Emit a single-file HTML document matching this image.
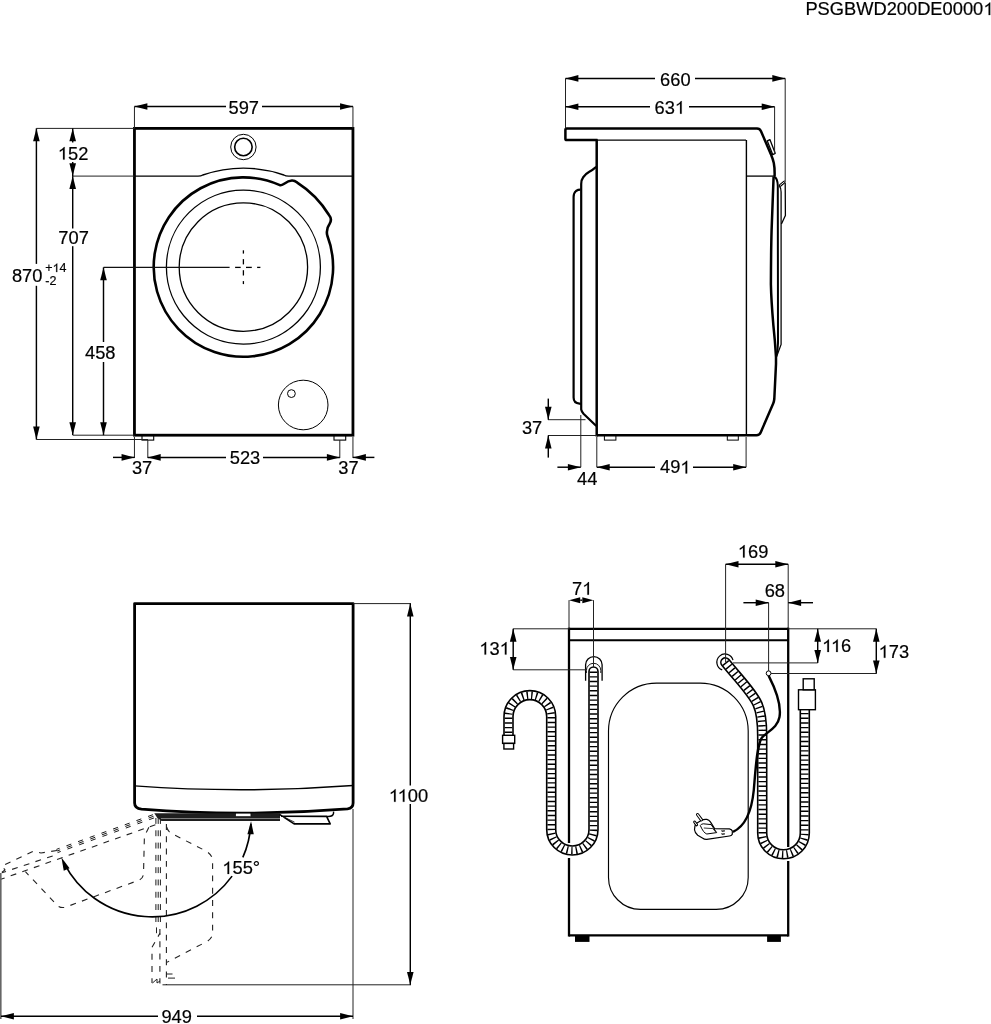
<!DOCTYPE html>
<html><head><meta charset="utf-8"><style>
html,body{margin:0;padding:0;background:#fff;}
svg{display:block;filter:grayscale(1);}
text{font-family:"Liberation Sans",sans-serif;fill:#000;stroke:#000;stroke-width:0.2px;}
</style></head><body>
<svg width="991" height="1024" viewBox="0 0 991 1024" fill="none" stroke-linecap="butt">
<text x="805.40" y="15.10" font-size="18.3">PSGBWD200DE0000</text>
<path transform="translate(983.40,15.10) scale(0.008936,-0.008936)" d="M764,0 L584,0 L584,1102 C519,1043 434,983 351,936 C306,911 262,893 223,876 L223,1043 C339,1096 441,1159 528,1234 C603,1300 657,1358 690,1409 L764,1409 Z" fill="#000" stroke="#000" stroke-width="22.4"/>
<rect x="134.45" y="128.4" width="218.5" height="306.79999999999995" stroke="#000" stroke-width="2.8"/>
<path d="M134.5,176.1 L198,176.1 Q201,176.1 202.8,175 A126,126 0 0 1 283.8,175 Q285.6,176.1 288.6,176.1 L353.2,176.1" stroke="#000" stroke-width="1.4"/>
<circle cx="243.4" cy="147" r="12.7" stroke="#000" stroke-width="1.0"/>
<circle cx="243.4" cy="147" r="8.75" stroke="#000" stroke-width="1.6"/>
<path d="M327.14,234.95 A89.7,89.7 0 1 1 279.88,185.15 C282.5,186.5 285.5,181 291.9,180.5 C294,180.4 295.5,181.2 297.24,182.59 A100.2,100.2 0 0 1 328.83,214.75 C331.5,218 331.5,221 329.5,224 C327,227.5 326.2,230 327.14,234.95" stroke="#000" stroke-width="2.6" stroke-linejoin="round"/>
<circle cx="243.4" cy="267.1" r="77" stroke="#000" stroke-width="1.3"/>
<circle cx="243.4" cy="267.1" r="64.2" stroke="#000" stroke-width="1.3"/>
<line x1="235.10" y1="267.40" x2="240.70" y2="267.40" stroke="#000" stroke-width="1.3" />
<line x1="246.00" y1="267.40" x2="251.80" y2="267.40" stroke="#000" stroke-width="1.3" />
<line x1="257.10" y1="267.40" x2="260.40" y2="267.40" stroke="#000" stroke-width="1.3" />
<line x1="243.40" y1="250.30" x2="243.40" y2="253.60" stroke="#000" stroke-width="1.3" />
<line x1="243.40" y1="259.10" x2="243.40" y2="264.40" stroke="#000" stroke-width="1.3" />
<line x1="243.40" y1="270.20" x2="243.40" y2="275.50" stroke="#000" stroke-width="1.3" />
<line x1="243.40" y1="281.10" x2="243.40" y2="284.10" stroke="#000" stroke-width="1.3" />
<circle cx="303.2" cy="405" r="24.8" stroke="#000" stroke-width="1.0"/>
<circle cx="291.4" cy="393.6" r="3.9" stroke="#000" stroke-width="1.0"/>
<rect x="142" y="435.3" width="11.7" height="4.8" stroke="#000" stroke-width="1.1"/>
<rect x="334" y="435.3" width="11.7" height="4.8" stroke="#000" stroke-width="1.1"/>
<line x1="134.45" y1="106.50" x2="134.45" y2="128.40" stroke="#222" stroke-width="1.0" />
<line x1="352.95" y1="106.50" x2="352.95" y2="128.40" stroke="#222" stroke-width="1.0" />
<line x1="134.45" y1="106.50" x2="226.00" y2="106.50" stroke="#000" stroke-width="1.45" />
<line x1="262.00" y1="106.50" x2="352.95" y2="106.50" stroke="#000" stroke-width="1.45" />
<path d="M134.45,106.50 L147.35,103.20 L147.35,109.80 Z" fill="#000"/>
<path d="M352.95,106.50 L340.05,109.80 L340.05,103.20 Z" fill="#000"/>
<text x="228.47" y="114.00" font-size="18.3">597</text>
<line x1="36.40" y1="128.40" x2="134.45" y2="128.40" stroke="#222" stroke-width="1.0" />
<line x1="36.40" y1="439.50" x2="148.00" y2="439.50" stroke="#222" stroke-width="1.0" />
<line x1="36.40" y1="128.40" x2="36.40" y2="263.90" stroke="#000" stroke-width="1.45" />
<line x1="36.40" y1="285.80" x2="36.40" y2="439.50" stroke="#000" stroke-width="1.45" />
<path d="M36.40,128.40 L39.70,141.30 L33.10,141.30 Z" fill="#000"/>
<path d="M36.40,439.50 L33.10,426.60 L39.70,426.60 Z" fill="#000"/>
<text x="11.90" y="281.60" font-size="18.3">870</text>
<text x="45.29" y="272.10" font-size="12.5">+</text>
<path transform="translate(52.59,272.10) scale(0.006104,-0.006104)" d="M764,0 L584,0 L584,1102 C519,1043 434,983 351,936 C306,911 262,893 223,876 L223,1043 C339,1096 441,1159 528,1234 C603,1300 657,1358 690,1409 L764,1409 Z" fill="#000" stroke="#000" stroke-width="32.8"/>
<text x="59.54" y="272.10" font-size="12.5">4</text>
<text x="45.34" y="284.90" font-size="12.5">-2</text>
<line x1="73.00" y1="176.10" x2="134.45" y2="176.10" stroke="#222" stroke-width="1.0" />
<line x1="73.00" y1="435.20" x2="134.45" y2="435.20" stroke="#222" stroke-width="1.0" />
<line x1="72.70" y1="128.40" x2="72.70" y2="142.50" stroke="#000" stroke-width="1.45" />
<line x1="72.70" y1="162.00" x2="72.70" y2="176.10" stroke="#000" stroke-width="1.45" />
<path d="M72.70,128.40 L76.00,141.30 L69.40,141.30 Z" fill="#000"/>
<path d="M72.70,176.10 L69.40,163.20 L76.00,163.20 Z" fill="#000"/>
<path transform="translate(57.81,159.60) scale(0.008936,-0.008936)" d="M764,0 L584,0 L584,1102 C519,1043 434,983 351,936 C306,911 262,893 223,876 L223,1043 C339,1096 441,1159 528,1234 C603,1300 657,1358 690,1409 L764,1409 Z" fill="#000" stroke="#000" stroke-width="22.4"/>
<text x="67.98" y="159.60" font-size="18.3">52</text>
<line x1="72.70" y1="176.10" x2="72.70" y2="228.50" stroke="#000" stroke-width="1.45" />
<line x1="72.70" y1="246.20" x2="72.70" y2="435.20" stroke="#000" stroke-width="1.45" />
<path d="M72.70,176.10 L76.00,189.00 L69.40,189.00 Z" fill="#000"/>
<path d="M72.70,435.20 L69.40,422.30 L76.00,422.30 Z" fill="#000"/>
<text x="58.36" y="243.70" font-size="18.3">707</text>
<line x1="103.50" y1="267.40" x2="229.60" y2="267.40" stroke="#111" stroke-width="1.2" />
<line x1="103.50" y1="267.40" x2="103.50" y2="342.00" stroke="#000" stroke-width="1.45" />
<line x1="103.50" y1="362.00" x2="103.50" y2="435.20" stroke="#000" stroke-width="1.45" />
<path d="M103.50,267.40 L106.80,280.30 L100.20,280.30 Z" fill="#000"/>
<path d="M103.50,435.20 L100.20,422.30 L106.80,422.30 Z" fill="#000"/>
<text x="84.98" y="358.50" font-size="18.3">458</text>
<line x1="134.45" y1="437.00" x2="134.45" y2="458.00" stroke="#222" stroke-width="1.0" />
<line x1="147.80" y1="440.00" x2="147.80" y2="458.00" stroke="#222" stroke-width="1.0" />
<line x1="339.80" y1="440.00" x2="339.80" y2="458.00" stroke="#222" stroke-width="1.0" />
<line x1="352.95" y1="437.00" x2="352.95" y2="458.00" stroke="#222" stroke-width="1.0" />
<line x1="113.00" y1="457.40" x2="134.45" y2="457.40" stroke="#000" stroke-width="1.45" />
<path d="M134.45,457.40 L121.55,460.70 L121.55,454.10 Z" fill="#000"/>
<line x1="147.80" y1="457.40" x2="226.00" y2="457.40" stroke="#000" stroke-width="1.45" />
<line x1="263.00" y1="457.40" x2="339.80" y2="457.40" stroke="#000" stroke-width="1.45" />
<path d="M147.80,457.40 L160.70,454.10 L160.70,460.70 Z" fill="#000"/>
<path d="M339.80,457.40 L326.90,460.70 L326.90,454.10 Z" fill="#000"/>
<line x1="374.40" y1="457.40" x2="352.95" y2="457.40" stroke="#000" stroke-width="1.45" />
<path d="M352.95,457.40 L365.85,454.10 L365.85,460.70 Z" fill="#000"/>
<text x="131.90" y="474.40" font-size="18.3">37</text>
<text x="229.77" y="464.40" font-size="18.3">523</text>
<text x="338.30" y="474.40" font-size="18.3">37</text>
<path d="M597.5,140.1 L566.8,140.1 Q565.4,140.1 565.4,138.7 L565.4,129.9 Q565.4,128.5 566.8,128.5 L757,128.5 Q759.8,128.5 761,131.2 L771.2,155 Q772.8,158.8 773.8,163 Q774.8,168 774.6,176" stroke="#000" stroke-width="2.5" stroke-linejoin="round"/>
<line x1="597.00" y1="140.10" x2="746.00" y2="140.10" stroke="#000" stroke-width="1.3" />
<line x1="746.40" y1="140.10" x2="746.40" y2="435.20" stroke="#000" stroke-width="1.4" />
<line x1="746.40" y1="176.10" x2="774.00" y2="176.10" stroke="#000" stroke-width="1.3" />
<line x1="596.70" y1="139.50" x2="596.70" y2="436.40" stroke="#000" stroke-width="2.5" />
<path d="M596.8,435.2 L756.5,435.2 Q759.5,435.2 760.8,432.2 L773.2,403.5 Q774,401.6 774.3,399 L776,364 L776,357 Q775,340 773.4,325.6 Q771.2,300 770.9,284.6 Q771,250 771.6,230 L773.6,176.5" stroke="#000" stroke-width="2.5" stroke-linejoin="round"/>
<path d="M774,176.5 Q777.6,178 777.8,186 L778,343 Q778,350 776,357" stroke="#000" stroke-width="2.0"/>
<path d="M779.4,186 Q781.1,188 781.1,192 L781.1,344.5 L776.3,357.5" stroke="#000" stroke-width="1.25"/>
<path d="M785.2,183 L785.4,215.5 L781.4,224" stroke="#000" stroke-width="1.3" stroke-linejoin="round"/>
<path d="M780.3,185.3 L784.3,182" stroke="#000" stroke-width="2.9" stroke-linecap="round"/>
<path d="M780.3,185.3 L784.3,182" stroke="#fff" stroke-width="0.9" stroke-linecap="round"/>
<path d="M767.3,140.9 L769.9,139.6 L775.2,153.3 L772.7,154.6 Z" fill="#fff" stroke="#000" stroke-width="1.3" stroke-linejoin="round"/>
<path d="M596.2,166.8 Q592.5,170 589.3,171.8 Q586,173.6 583.2,177.2 Q581.2,179.8 581.2,184 L581.2,409.5 Q581.6,411.5 583.5,413.7 L596.3,426" stroke="#000" stroke-width="2.2" stroke-linejoin="round"/>
<path d="M580.5,189.7 Q578,189.7 576,191 Q573.6,193 573.6,197 L573.6,397.5 Q573.6,403.2 579.5,403.6 L581.2,404" stroke="#000" stroke-width="2.2" stroke-linejoin="round"/>
<rect x="604.4" y="435.5" width="11.5" height="4.6" stroke="#000" stroke-width="1.0"/>
<rect x="727.3" y="435.5" width="11" height="4.6" stroke="#000" stroke-width="1.0"/>
<line x1="565.50" y1="78.40" x2="565.50" y2="128.50" stroke="#222" stroke-width="1.0" />
<line x1="785.20" y1="78.40" x2="785.20" y2="181.00" stroke="#222" stroke-width="1.0" />
<line x1="774.60" y1="106.70" x2="774.60" y2="152.00" stroke="#222" stroke-width="1.0" />
<line x1="565.50" y1="78.40" x2="655.00" y2="78.40" stroke="#000" stroke-width="1.45" />
<line x1="695.00" y1="78.40" x2="785.20" y2="78.40" stroke="#000" stroke-width="1.45" />
<path d="M565.50,78.40 L578.40,75.10 L578.40,81.70 Z" fill="#000"/>
<path d="M785.20,78.40 L772.30,81.70 L772.30,75.10 Z" fill="#000"/>
<text x="660.07" y="85.70" font-size="18.3">660</text>
<line x1="565.50" y1="106.70" x2="650.00" y2="106.70" stroke="#000" stroke-width="1.45" />
<line x1="689.00" y1="106.70" x2="774.60" y2="106.70" stroke="#000" stroke-width="1.45" />
<path d="M565.50,106.70 L578.40,103.40 L578.40,110.00 Z" fill="#000"/>
<path d="M774.60,106.70 L761.70,110.00 L761.70,103.40 Z" fill="#000"/>
<text x="654.47" y="113.70" font-size="18.3">63</text>
<path transform="translate(674.83,113.70) scale(0.008936,-0.008936)" d="M764,0 L584,0 L584,1102 C519,1043 434,983 351,936 C306,911 262,893 223,876 L223,1043 C339,1096 441,1159 528,1234 C603,1300 657,1358 690,1409 L764,1409 Z" fill="#000" stroke="#000" stroke-width="22.4"/>
<line x1="548.00" y1="419.70" x2="585.50" y2="419.70" stroke="#222" stroke-width="1.0" />
<line x1="548.00" y1="435.50" x2="597.00" y2="435.50" stroke="#222" stroke-width="1.0" />
<line x1="548.30" y1="398.60" x2="548.30" y2="419.70" stroke="#000" stroke-width="1.45" />
<path d="M548.30,419.70 L545.00,406.80 L551.60,406.80 Z" fill="#000"/>
<line x1="548.30" y1="457.60" x2="548.30" y2="435.50" stroke="#000" stroke-width="1.45" />
<path d="M548.30,435.50 L551.60,448.40 L545.00,448.40 Z" fill="#000"/>
<text x="521.90" y="433.90" font-size="18.3">37</text>
<line x1="580.80" y1="415.00" x2="580.80" y2="467.20" stroke="#222" stroke-width="1.0" />
<line x1="596.80" y1="437.00" x2="596.80" y2="467.20" stroke="#222" stroke-width="1.0" />
<line x1="746.10" y1="437.00" x2="746.10" y2="467.20" stroke="#222" stroke-width="1.0" />
<line x1="557.40" y1="467.20" x2="580.80" y2="467.20" stroke="#000" stroke-width="1.45" />
<path d="M580.80,467.20 L567.90,470.50 L567.90,463.90 Z" fill="#000"/>
<line x1="596.80" y1="467.20" x2="655.00" y2="467.20" stroke="#000" stroke-width="1.45" />
<line x1="693.00" y1="467.20" x2="746.10" y2="467.20" stroke="#000" stroke-width="1.45" />
<path d="M596.80,467.20 L609.70,463.90 L609.70,470.50 Z" fill="#000"/>
<path d="M746.10,467.20 L733.20,470.50 L733.20,463.90 Z" fill="#000"/>
<text x="576.98" y="485.40" font-size="18.3">44</text>
<text x="659.98" y="473.40" font-size="18.3">49</text>
<path transform="translate(680.34,473.40) scale(0.008936,-0.008936)" d="M764,0 L584,0 L584,1102 C519,1043 434,983 351,936 C306,911 262,893 223,876 L223,1043 C339,1096 441,1159 528,1234 C603,1300 657,1358 690,1409 L764,1409 Z" fill="#000" stroke="#000" stroke-width="22.4"/>
<path d="M134.6,803 L134.6,603.6 L353.1,603.6 L353.1,803 Q353.1,808.2 347.5,808.8 Q243.6,817.2 141.5,809.2 Q134.6,808.4 134.6,803 Z" stroke="#000" stroke-width="2.8" stroke-linejoin="round"/>
<path d="M134.6,785.9 Q243.6,793.8 353.1,785.5" stroke="#000" stroke-width="1.4"/>
<path d="M154.3,813.2 L280,813.2 L280,820.9 L161.5,820.9 L157,817.5 Z" fill="#1e1e1e"/>
<rect x="160" y="818.1" width="120" height="0.9" fill="#8a8a8a"/>
<rect x="235.6" y="813.2" width="15.3" height="3.4" fill="#fff" stroke="#000" stroke-width="0.6"/>
<path d="M279.5,814.3 L294.1,823.9 L330.2,823.9 L326.6,816.4 L281,816.2" fill="#fff" stroke="#000" stroke-width="1.6" stroke-linejoin="round"/>
<path d="M326.6,816.4 Q332.8,817 333.5,813.5 L333.6,811.6" stroke="#000" stroke-width="1.4"/>
<path d="M281,815.6 L294.6,822.2" stroke="#000" stroke-width="0.8"/>
<path d="M155.9,818 L155.9,922" stroke="#1a1a1a" stroke-width="1.0" stroke-dasharray="5.9 6.4"/>
<path d="M158.2,818 L158.2,922" stroke="#1a1a1a" stroke-width="1.0" stroke-dasharray="5.9 6.4"/>
<path d="M160.4,818 L160.4,922" stroke="#1a1a1a" stroke-width="1.0" stroke-dasharray="5.9 6.4"/>
<path d="M166.4,824 L166.4,985" stroke="#222" stroke-width="1.1" stroke-dasharray="5.9 6.4" />
<path d="M166.6,827 Q168,832 172.7,834.1 L205,850.5 Q212.6,854.5 212.6,861 L212.6,933 Q212.6,939 205,942.5 L167.1,962.2" stroke="#222" stroke-width="1.1" stroke-dasharray="5.9 6.4" />
<path d="M159.9,929 L159.9,983.5" stroke="#222" stroke-width="1.1" stroke-dasharray="5.9 6.4" />
<line x1="156.50" y1="927.40" x2="156.50" y2="933.20" stroke="#222" stroke-width="1.0" />
<path d="M159.9,933.2 L152,947.4 L152,983" stroke="#222" stroke-width="1.1" stroke-dasharray="5.9 6.4" stroke-dashoffset="2"/>
<path d="M152.5,983 L157,979 L157,983 L160,981" stroke="#222" stroke-width="1.0"/>
<line x1="166.40" y1="974.00" x2="172.50" y2="974.00" stroke="#222" stroke-width="1.0" />
<line x1="168.00" y1="978.10" x2="175.00" y2="978.10" stroke="#222" stroke-width="1.0" />
<line x1="152.92" y1="814.70" x2="56.42" y2="849.40" stroke="#1a1a1a" stroke-width="1.0" stroke-dasharray="5.2 7.2"/>
<line x1="153.50" y1="816.30" x2="57.00" y2="851.00" stroke="#1a1a1a" stroke-width="1.0" stroke-dasharray="5.2 7.2"/>
<line x1="154.08" y1="817.90" x2="57.58" y2="852.60" stroke="#1a1a1a" stroke-width="1.0" stroke-dasharray="5.2 7.2"/>
<path d="M155.4,824.7 L0,879.6" stroke="#222" stroke-width="1.1" stroke-dasharray="5.9 6.4" />
<path d="M57,850.5 L41,853 L37,852 L33,851.5 L2,866 L5,870 L1,873" stroke="#222" stroke-width="1.1" stroke-dasharray="5.9 6.4" />
<path d="M52.7,855.9 L1.8,872.8" stroke="#222" stroke-width="1.1" stroke-dasharray="5.9 6.4" />
<path d="M148.9,827.2 L144.4,836.3 L143.5,874 Q143,879 138,880.5 L66,907 Q60,909 56,904 L25.4,871.7" stroke="#222" stroke-width="1.1" stroke-dasharray="5.9 6.4" />
<path d="M250.92,823.84 A99.0,99.0 0 0 1 242.82,857.43" stroke="#000" stroke-width="1.65"/>
<path d="M232.09,876.13 A99.0,99.0 0 0 1 64.29,863.51" stroke="#000" stroke-width="1.65"/>
<path d="M251.04,821.26 L253.78,834.36 L247.39,834.14 Z" fill="#000"/>
<path d="M61.45,857.59 L69.60,868.21 L63.74,870.78 Z" fill="#000"/>
<path transform="translate(222.31,874.00) scale(0.008936,-0.008936)" d="M764,0 L584,0 L584,1102 C519,1043 434,983 351,936 C306,911 262,893 223,876 L223,1043 C339,1096 441,1159 528,1234 C603,1300 657,1358 690,1409 L764,1409 Z" fill="#000" stroke="#000" stroke-width="22.4"/>
<text x="232.48" y="874.00" font-size="18.3">55°</text>
<line x1="353.10" y1="603.60" x2="411.00" y2="603.60" stroke="#222" stroke-width="1.0" />
<line x1="162.50" y1="984.80" x2="411.00" y2="984.80" stroke="#222" stroke-width="1.0" />
<line x1="410.30" y1="603.60" x2="410.30" y2="785.50" stroke="#000" stroke-width="1.45" />
<line x1="410.30" y1="804.00" x2="410.30" y2="984.80" stroke="#000" stroke-width="1.45" />
<path d="M410.30,603.60 L413.60,616.50 L407.00,616.50 Z" fill="#000"/>
<path d="M410.30,984.80 L407.00,971.90 L413.60,971.90 Z" fill="#000"/>
<path transform="translate(388.81,801.80) scale(0.008936,-0.008936)" d="M764,0 L584,0 L584,1102 C519,1043 434,983 351,936 C306,911 262,893 223,876 L223,1043 C339,1096 441,1159 528,1234 C603,1300 657,1358 690,1409 L764,1409 Z" fill="#000" stroke="#000" stroke-width="22.4"/>
<path transform="translate(397.63,801.80) scale(0.008936,-0.008936)" d="M764,0 L584,0 L584,1102 C519,1043 434,983 351,936 C306,911 262,893 223,876 L223,1043 C339,1096 441,1159 528,1234 C603,1300 657,1358 690,1409 L764,1409 Z" fill="#000" stroke="#000" stroke-width="22.4"/>
<text x="407.80" y="801.80" font-size="18.3">00</text>
<line x1="353.00" y1="809.00" x2="353.00" y2="1019.00" stroke="#222" stroke-width="1.0" />
<line x1="0.8" y1="873" x2="0.8" y2="1019" stroke="#666" stroke-width="1.6"/>
<line x1="1.00" y1="1016.30" x2="158.00" y2="1016.30" stroke="#000" stroke-width="1.45" />
<line x1="197.00" y1="1016.30" x2="353.00" y2="1016.30" stroke="#000" stroke-width="1.45" />
<path d="M1.00,1016.30 L13.90,1013.00 L13.90,1019.60 Z" fill="#000"/>
<path d="M353.00,1016.30 L340.10,1019.60 L340.10,1013.00 Z" fill="#000"/>
<text x="161.44" y="1022.90" font-size="18.3">949</text>
<line x1="569.00" y1="628.80" x2="788.20" y2="628.80" stroke="#000" stroke-width="2.3" />
<line x1="569.00" y1="935.40" x2="788.20" y2="935.40" stroke="#000" stroke-width="2.3" />
<line x1="569.00" y1="627.65" x2="569.00" y2="843.00" stroke="#000" stroke-width="2.3" />
<line x1="569.00" y1="858.00" x2="569.00" y2="936.55" stroke="#000" stroke-width="2.3" />
<line x1="788.20" y1="627.65" x2="788.20" y2="847.00" stroke="#000" stroke-width="2.3" />
<line x1="788.20" y1="861.00" x2="788.20" y2="936.55" stroke="#000" stroke-width="2.3" />
<line x1="569.00" y1="640.20" x2="788.20" y2="640.20" stroke="#000" stroke-width="2.0" />
<rect x="575" y="935.4" width="14.5" height="6.5" fill="#000"/>
<rect x="767.1" y="935.4" width="13.8" height="6.5" fill="#000"/>
<path d="M656.5,683.1 L700.2,683.1 A48,48 0 0 1 748.2,731.1 L748.2,877.4 A32,32 0 0 1 716.2,909.4 L640.5,909.4 A32,32 0 0 1 608.5,877.4 L608.5,731.1 A48,48 0 0 1 656.5,683.1 Z" stroke="#000" stroke-width="1.15"/>
<path d="M593.5,671.5 L593.5,829.4 A21.15,21.15 0 0 1 551.2,829.4 L551.2,716.5 A21.35,21.35 0 0 0 508.5,716.5 L508.5,735" stroke="#000" stroke-width="10.6" stroke-linecap="round"/>
<path d="M593.5,671.5 L593.5,829.4 A21.15,21.15 0 0 1 551.2,829.4 L551.2,716.5 A21.35,21.35 0 0 0 508.5,716.5 L508.5,735" stroke="#fff" stroke-width="7.4" stroke-linecap="round"/>
<path d="M593.5,671.5 L593.5,829.4 A21.15,21.15 0 0 1 551.2,829.4 L551.2,716.5 A21.35,21.35 0 0 0 508.5,716.5 L508.5,735" stroke="#000" stroke-width="7.6" stroke-dasharray="1.4 3.25"/>
<rect x="502.6" y="735.3" width="12.1" height="8.1" fill="#fff" stroke="#000" stroke-width="1.4"/>
<rect x="503.9" y="743.4" width="9.7" height="5.6" fill="#fff" stroke="#000" stroke-width="1.4"/>
<path d="M585.6,680.8 L585.6,664.8 A8.25,8.25 0 0 1 602.1,664.8 L602.1,680.8" stroke="#000" stroke-width="1.3"/>
<path d="M586.4,673 L586.4,670.5 A7.2,7.2 0 0 1 600.8,670.5 L600.8,673" stroke="#000" stroke-width="0.9"/>
<path d="M725.4,662.4 C738,678 752,692 757.5,704 C761.5,713 762.2,722 762.2,736 L762.2,833 A21.3,21.3 0 0 0 804.8,833 L804.8,709" stroke="#000" stroke-width="10.6" stroke-linecap="round"/>
<path d="M725.4,662.4 C738,678 752,692 757.5,704 C761.5,713 762.2,722 762.2,736 L762.2,833 A21.3,21.3 0 0 0 804.8,833 L804.8,709" stroke="#fff" stroke-width="7.4" stroke-linecap="round"/>
<path d="M725.4,662.4 C738,678 752,692 757.5,704 C761.5,713 762.2,722 762.2,736 L762.2,833 A21.3,21.3 0 0 0 804.8,833 L804.8,709" stroke="#000" stroke-width="7.6" stroke-dasharray="1.4 3.25"/>
<rect x="798.5" y="689.8" width="16.9" height="19.9" fill="#fff" stroke="#000" stroke-width="1.4"/>
<rect x="803.2" y="678.8" width="11" height="11" fill="#fff" stroke="#000" stroke-width="1.4"/>
<path d="M722.2,669.9 A8.2,8.2 0 1 1 733,660.1" stroke="#000" stroke-width="1.2"/>
<path d="M768.6,675.6 C776,690 781.5,705 779.5,717 C777.5,728 768,731 762,737.5 C757,744 755.5,770 753.8,790 C752,808 746,826 733,831.8" stroke="#000" stroke-width="2.4"/>
<circle cx="768.6" cy="673.3" r="2.4" stroke="#000" stroke-width="1.0"/>
<path d="M701.2,820.5 Q704,819 706.8,819.4 Q709,820 710.4,821.9 L714.6,828.6 L729.4,828.9 Q731.9,829.4 732.3,831 L732.3,834.2 Q731.5,835.8 729.4,836 L706.8,839.4 Q704.5,839.6 702.8,838.3 L697.7,835.3 Q694.8,832.5 694.5,829.7 Q694.5,826 695.8,823.8 Z" fill="#fff" stroke="#000" stroke-width="1.2" stroke-linejoin="round"/>
<path d="M700.3,825.5 Q701,824 703.3,823.8 L711.1,824.6 L716.7,832.6 L706.8,834 Q703.5,833 700.3,825.5 Z" stroke="#000" stroke-width="1.0" stroke-linejoin="round"/>
<path d="M703.8,828 L712.8,828.6 L716,832.3" stroke="#000" stroke-width="0.8"/>
<path d="M697.6,814.6 L701.4,819.8" stroke="#000" stroke-width="3.2" stroke-linecap="round"/>
<path d="M697.6,814.6 L701.4,819.8" stroke="#fff" stroke-width="1.2" stroke-linecap="round"/>
<path d="M694.6,822 L696.6,824.8" stroke="#000" stroke-width="3.0" stroke-linecap="round"/>
<path d="M694.6,822 L696.6,824.8" stroke="#fff" stroke-width="1.0" stroke-linecap="round"/>
<path d="M721.5,830 L722.3,832 L723.1,830 L723.9,832 L724.7,830 M721.5,833 L722.3,835 L723.1,833 L723.9,835 L724.7,833" stroke="#000" stroke-width="0.6"/>
<line x1="569.00" y1="600.20" x2="569.00" y2="628.80" stroke="#222" stroke-width="1.0" />
<line x1="593.50" y1="600.20" x2="593.50" y2="667.00" stroke="#222" stroke-width="1.0" />
<line x1="580.20" y1="600.20" x2="582.20" y2="600.20" stroke="#000" stroke-width="1.45" />
<path d="M569.00,600.20 L580.20,597.20 L580.20,603.20 Z" fill="#000"/>
<path d="M593.50,600.20 L582.30,603.20 L582.30,597.20 Z" fill="#000"/>
<text x="571.96" y="594.70" font-size="18.3">7</text>
<path transform="translate(582.14,594.70) scale(0.008936,-0.008936)" d="M764,0 L584,0 L584,1102 C519,1043 434,983 351,936 C306,911 262,893 223,876 L223,1043 C339,1096 441,1159 528,1234 C603,1300 657,1358 690,1409 L764,1409 Z" fill="#000" stroke="#000" stroke-width="22.4"/>
<line x1="513.20" y1="628.80" x2="569.00" y2="628.80" stroke="#222" stroke-width="1.0" />
<line x1="513.20" y1="669.80" x2="586.00" y2="669.80" stroke="#222" stroke-width="1.0" />
<line x1="513.20" y1="628.80" x2="513.20" y2="669.80" stroke="#000" stroke-width="1.45" />
<path d="M513.20,628.80 L516.50,641.70 L509.90,641.70 Z" fill="#000"/>
<path d="M513.20,669.80 L509.90,656.90 L516.50,656.90 Z" fill="#000"/>
<path transform="translate(479.31,654.60) scale(0.008936,-0.008936)" d="M764,0 L584,0 L584,1102 C519,1043 434,983 351,936 C306,911 262,893 223,876 L223,1043 C339,1096 441,1159 528,1234 C603,1300 657,1358 690,1409 L764,1409 Z" fill="#000" stroke="#000" stroke-width="22.4"/>
<text x="489.48" y="654.60" font-size="18.3">3</text>
<path transform="translate(499.66,654.60) scale(0.008936,-0.008936)" d="M764,0 L584,0 L584,1102 C519,1043 434,983 351,936 C306,911 262,893 223,876 L223,1043 C339,1096 441,1159 528,1234 C603,1300 657,1358 690,1409 L764,1409 Z" fill="#000" stroke="#000" stroke-width="22.4"/>
<line x1="725.60" y1="564.30" x2="725.60" y2="662.00" stroke="#222" stroke-width="1.0" />
<line x1="788.20" y1="564.30" x2="788.20" y2="628.80" stroke="#222" stroke-width="1.0" />
<line x1="725.60" y1="564.30" x2="788.20" y2="564.30" stroke="#000" stroke-width="1.45" />
<path d="M725.60,564.30 L738.50,561.00 L738.50,567.60 Z" fill="#000"/>
<path d="M788.20,564.30 L775.30,567.60 L775.30,561.00 Z" fill="#000"/>
<path transform="translate(737.81,557.60) scale(0.008936,-0.008936)" d="M764,0 L584,0 L584,1102 C519,1043 434,983 351,936 C306,911 262,893 223,876 L223,1043 C339,1096 441,1159 528,1234 C603,1300 657,1358 690,1409 L764,1409 Z" fill="#000" stroke="#000" stroke-width="22.4"/>
<text x="747.98" y="557.60" font-size="18.3">69</text>
<line x1="768.60" y1="602.70" x2="768.60" y2="671.00" stroke="#222" stroke-width="1.0" />
<line x1="743.40" y1="602.70" x2="768.60" y2="602.70" stroke="#000" stroke-width="1.45" />
<path d="M768.60,602.70 L755.70,606.00 L755.70,599.40 Z" fill="#000"/>
<line x1="813.00" y1="602.70" x2="788.20" y2="602.70" stroke="#000" stroke-width="1.45" />
<path d="M788.20,602.70 L801.10,599.40 L801.10,606.00 Z" fill="#000"/>
<text x="764.67" y="596.60" font-size="18.3">68</text>
<line x1="788.20" y1="628.80" x2="876.60" y2="628.80" stroke="#222" stroke-width="1.0" />
<line x1="733.00" y1="662.90" x2="817.70" y2="662.90" stroke="#222" stroke-width="1.0" />
<line x1="771.00" y1="673.50" x2="876.60" y2="673.50" stroke="#222" stroke-width="1.0" />
<line x1="817.70" y1="628.80" x2="817.70" y2="662.90" stroke="#000" stroke-width="1.45" />
<path d="M817.70,628.80 L821.00,641.70 L814.40,641.70 Z" fill="#000"/>
<path d="M817.70,662.90 L814.40,650.00 L821.00,650.00 Z" fill="#000"/>
<path transform="translate(822.11,652.00) scale(0.008936,-0.008936)" d="M764,0 L584,0 L584,1102 C519,1043 434,983 351,936 C306,911 262,893 223,876 L223,1043 C339,1096 441,1159 528,1234 C603,1300 657,1358 690,1409 L764,1409 Z" fill="#000" stroke="#000" stroke-width="22.4"/>
<path transform="translate(830.93,652.00) scale(0.008936,-0.008936)" d="M764,0 L584,0 L584,1102 C519,1043 434,983 351,936 C306,911 262,893 223,876 L223,1043 C339,1096 441,1159 528,1234 C603,1300 657,1358 690,1409 L764,1409 Z" fill="#000" stroke="#000" stroke-width="22.4"/>
<text x="841.10" y="652.00" font-size="18.3">6</text>
<line x1="876.30" y1="628.80" x2="876.30" y2="673.50" stroke="#000" stroke-width="1.45" />
<path d="M876.30,628.80 L879.60,641.70 L873.00,641.70 Z" fill="#000"/>
<path d="M876.30,673.50 L873.00,660.60 L879.60,660.60 Z" fill="#000"/>
<path transform="translate(878.61,657.80) scale(0.008936,-0.008936)" d="M764,0 L584,0 L584,1102 C519,1043 434,983 351,936 C306,911 262,893 223,876 L223,1043 C339,1096 441,1159 528,1234 C603,1300 657,1358 690,1409 L764,1409 Z" fill="#000" stroke="#000" stroke-width="22.4"/>
<text x="888.78" y="657.80" font-size="18.3">73</text>
</svg></body></html>
